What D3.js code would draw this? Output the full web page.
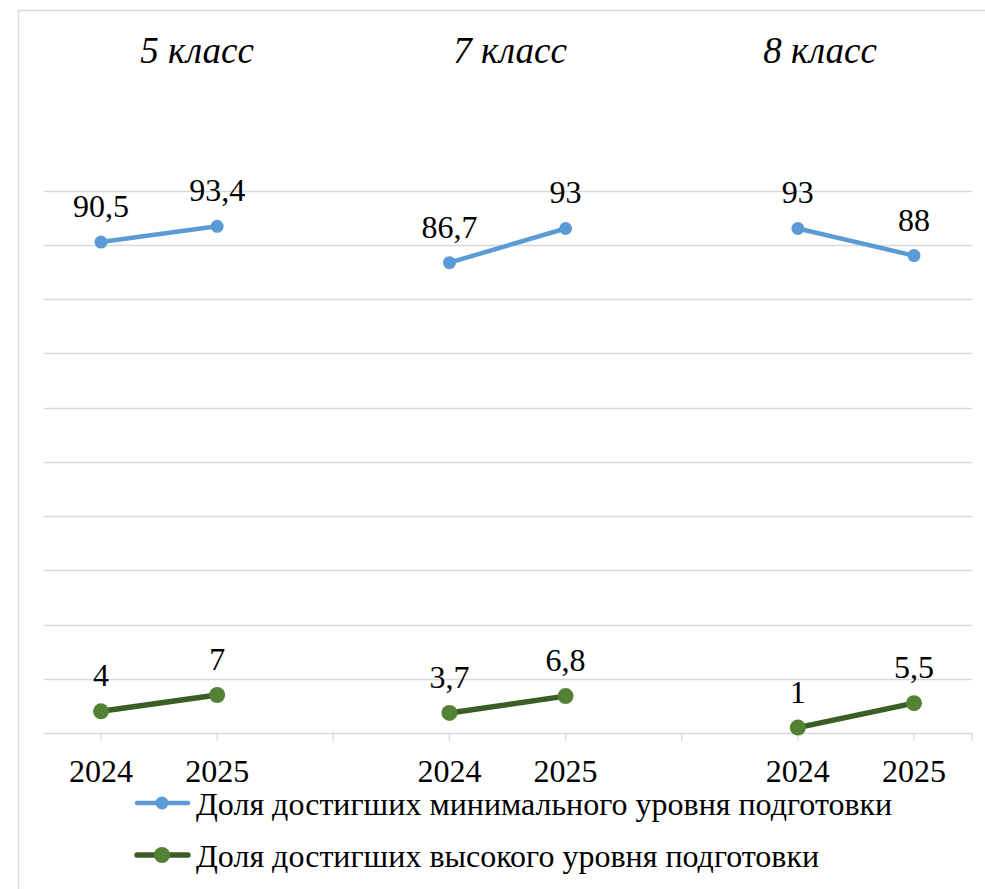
<!DOCTYPE html>
<html><head><meta charset="utf-8">
<script src="https://cdn.jsdelivr.net/npm/d3@7/dist/d3.min.js"></script>
<style>body{margin:0;background:#fff}svg{display:block}
#c text{font-family:"Liberation Serif",serif}</style>
</head><body><svg id="c" width="985" height="889"></svg>
<script>
const categories = ["a2024","a2025","gap1","b2024","b2025","gap2","c2024","c2025"];
const tickLabels = ["2024","2025","","2024","2025","","2024","2025"];
const groups = ["5 класс","7 класс","8 класс"];
const groupCats = [["a2024","a2025"],["b2024","b2025"],["c2024","c2025"]];
const minLevel = [[90.5,93.4],[86.7,93],[93,88]];
const highLevel = [[4,7],[3.7,6.8],[1,5.5]];
const seriesNames = ["Доля достигших минимального уровня подготовки","Доля достигших высокого уровня подготовки"];
const labelsMin = [["90,5","93,4"],["86,7","93"],["93","88"]];
const labelsHigh = [["4","7"],["3,7","6,8"],["1","5,5"]];
const yTicks = [0,10,20,30,40,50,60,70,80,90,100];
const FONT = "Liberation Serif";

const svg = d3.select("#c");
svg.append("rect").attr("x",18.5).attr("y",10.5).attr("width",990).attr("height",900)
  .attr("fill","none").attr("stroke","#d9d9d9").attr("stroke-width",1.5);

const x = d3.scalePoint().domain(categories).range([101,914]);
const y = d3.scaleLinear().domain([0,100]).range([733,190.5]);
const left = 44, right = 972;

svg.append("g").selectAll("line").data(yTicks.slice(1)).join("line")
  .attr("x1",left).attr("x2",right).attr("y1",d=>Math.round(y(d))+0.5).attr("y2",d=>Math.round(y(d))+0.5)
  .attr("stroke","#d9d9d9").attr("stroke-width",1.3);
svg.append("line").attr("x1",left).attr("x2",right).attr("y1",733.5).attr("y2",733.5).attr("stroke","#d9d9d9").attr("stroke-width",1.5);
const tickXs = categories.map(c=>x(c)).concat([right]);
svg.append("g").selectAll("line").data(tickXs).join("line")
  .attr("x1",d=>d).attr("x2",d=>d).attr("y1",733).attr("y2",741).attr("stroke","#d9d9d9").attr("stroke-width",1.3);
svg.append("g").selectAll("text").data(categories).join("text")
  .attr("x",d=>x(d)).attr("y",782).attr("text-anchor","middle").attr("font-size",32).style("font-family",FONT)
  .text((d,i)=>tickLabels[i]);
const titleX = [197,510,820];
svg.append("g").selectAll("text").data(groups).join("text")
  .attr("x",(d,i)=>titleX[i]).attr("y",63).attr("text-anchor","middle").attr("font-size",37).attr("font-style","italic").style("font-family",FONT)
  .text(d=>d);

const line = d3.line().x(d=>d[0]).y(d=>d[1]);
function drawSeries(vals, labels, lineColor, markerColor, lw, r){
  groupCats.forEach((cats,gi)=>{
    const pts = cats.map((c,i)=>[x(c), y(vals[gi][i])]);
    svg.append("path").attr("d",line(pts)).attr("fill","none").attr("stroke",lineColor).attr("stroke-width",lw).attr("stroke-linecap","round");
    svg.append("g").selectAll("circle").data(pts).join("circle").attr("cx",d=>d[0]).attr("cy",d=>d[1]).attr("r",r).attr("fill",markerColor);
    svg.append("g").selectAll("text").data(pts).join("text").attr("x",d=>d[0]).attr("y",d=>d[1]-25)
      .attr("text-anchor","middle").attr("font-size",32).style("font-family",FONT).text((d,i)=>labels[gi][i]);
  });
}
drawSeries(minLevel, labelsMin, "#5B9BD5", "#5B9BD5", 4.5, 6.5);
drawSeries(highLevel, labelsHigh, "#3B5E27", "#548235", 5.5, 8);

const legend = [{name:seriesNames[0], lc:"#5B9BD5", mc:"#5B9BD5", lw:4.5, r:6.5, y:803},
                {name:seriesNames[1], lc:"#3B5E27", mc:"#548235", lw:5.5, r:8, y:855}];
const lg = svg.append("g");
legend.forEach(l=>{
  lg.append("line").attr("x1",137).attr("x2",188).attr("y1",l.y).attr("y2",l.y).attr("stroke",l.lc).attr("stroke-width",l.lw).attr("stroke-linecap","round");
  lg.append("circle").attr("cx",162).attr("cy",l.y).attr("r",l.r).attr("fill",l.mc);
  lg.append("text").attr("x",196).attr("y",l.y+12).attr("font-size",32).style("font-family",FONT).text(l.name);
});
</script></body></html>
